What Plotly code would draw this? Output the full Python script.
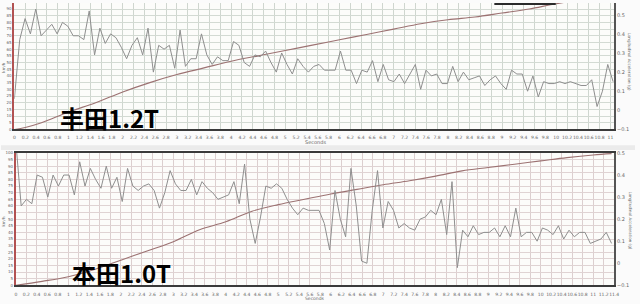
import numpy as np
import plotly.graph_objects as go

# ---------------- data ----------------
# Toyota 1.2T (top chart)
toyota_speed_t = [0, 0.2, 0.5, 1, 1.5, 2, 2.5, 3, 3.5, 4, 4.5, 5, 5.5, 6, 6.5, 7, 7.5, 8, 8.5, 9, 9.5, 10, 10.5, 11]
toyota_speed = [0, 1.5, 5, 13, 20, 28, 35, 41, 46, 51, 55, 59, 63, 67, 71, 75, 79, 82, 84, 87, 90, 94, 97, 100]
toyota_acc = [
    0.06, 0.37, 0.48, 0.40, 0.53, 0.39, 0.42, 0.45, 0.40, 0.46, 0.44, 0.39, 0.39, 0.37, 0.52, 0.29, 0.43, 0.35, 0.40,
    0.38, 0.33, 0.27, 0.34, 0.38, 0.29, 0.43, 0.20, 0.34, 0.32, 0.34, 0.22, 0.42, 0.23, 0.27, 0.27, 0.40, 0.29, 0.24,
    0.28, 0.26, 0.26, 0.36, 0.34, 0.25, 0.23, 0.29, 0.28, 0.31, 0.25, 0.20, 0.30, 0.24, 0.19, 0.27, 0.23, 0.20, 0.23,
    0.24, 0.21, 0.21, 0.21, 0.31, 0.21, 0.21, 0.14, 0.21, 0.20, 0.26, 0.15, 0.24, 0.16, 0.15, 0.19, 0.14, 0.19, 0.24, 0.11,
    0.21, 0.18, 0.19, 0.14, 0.14, 0.23, 0.15, 0.20, 0.16, 0.17, 0.18, 0.13, 0.16, 0.18, 0.14, 0.11, 0.21, 0.19,
    0.19, 0.10, 0.18, 0.07, 0.15, 0.14, 0.14, 0.15, 0.14, 0.15, 0.14, 0.13, 0.13, 0.16, 0.02, 0.10, 0.24, 0.15]
toyota_t_end = 11.05

# Honda 1.0T (bottom chart)
honda_speed_t = [0, 0.5, 1, 1.5, 2, 2.5, 3, 3.5, 4, 4.5, 5, 5.5, 6, 6.5, 7, 7.5, 8, 8.5, 9, 9.5, 10, 10.5, 11, 11.35]
honda_speed = [0, 3, 6.5, 12, 19, 26, 33, 42, 48, 56, 61, 65, 69, 72.5, 76, 79, 82.5, 86.5, 89, 91.5, 94, 96.5, 98.5, 99.5]
honda_acc = [
    0.55, 0.26, 0.29, 0.27, 0.40, 0.39, 0.30, 0.40, 0.35, 0.40, 0.40, 0.31, 0.46, 0.35, 0.43, 0.38, 0.34, 0.44, 0.34,
    0.39, 0.28, 0.43, 0.35, 0.33, 0.35, 0.36, 0.33, 0.25, 0.32, 0.42, 0.36, 0.33, 0.33, 0.38, 0.31, 0.37, 0.34, 0.32, 0.29,
    0.30, 0.31, 0.37, 0.27, 0.45, 0.20, 0.09, 0.21, 0.35, 0.34, 0.36, 0.34, 0.29, 0.25, 0.22, 0.25, 0.24, 0.24, 0.24,
    0.18, 0.06, 0.33, 0.20, 0.12, 0.43, 0.26, 0.01, 0.00, 0.24, 0.42, 0.16, 0.28, 0.24, 0.16, 0.18, 0.16, 0.15, 0.20, 0.21,
    0.24, 0.22, 0.29, 0.13, 0.37, -0.02, 0.15, 0.12, 0.17, 0.13, 0.14, 0.14, 0.16, 0.12, 0.17, 0.12, 0.25, 0.12,
    0.14, 0.14, 0.10, 0.16, 0.15, 0.13, 0.17, 0.11, 0.15, 0.12, 0.14, 0.14, 0.09, 0.10, 0.11, 0.14, 0.09]
honda_t_end = 11.35

labels = ["丰田1.2T", "本田1.0T"]
x_title = "Seconds"
left_title = "km/h"
right_title = "Longitudinal Acceleration (g)"

toyota_t = np.linspace(0, toyota_t_end, len(toyota_acc))
honda_t = np.linspace(0, honda_t_end, len(honda_acc))

# ---------------- figure ----------------
W, H = 640, 304
def px(x):
    return x / W
def py(y):
    return 1 - y / H

ACC = "#8e8e8e"
SPD = "#9c7272"
tickfont = dict(family="DejaVu Sans", size=5, color="#666")
xtickfont = dict(family="DejaVu Sans", size=4.5, color="#666")

fig = go.Figure()
fig.add_trace(go.Scatter(x=toyota_t, y=toyota_acc, xaxis="x", yaxis="y2", mode="lines",
                         line=dict(color=ACC, width=1), hoverinfo="skip"))
fig.add_trace(go.Scatter(x=toyota_speed_t, y=toyota_speed, xaxis="x", yaxis="y", mode="lines",
                         line=dict(color=SPD, width=1.1, shape="spline"), hoverinfo="skip"))
fig.add_trace(go.Scatter(x=honda_t, y=honda_acc, xaxis="x2", yaxis="y4", mode="lines",
                         line=dict(color=ACC, width=1), hoverinfo="skip"))
fig.add_trace(go.Scatter(x=honda_speed_t, y=honda_speed, xaxis="x2", yaxis="y3", mode="lines",
                         line=dict(color=SPD, width=1.1, shape="spline"), hoverinfo="skip"))

xcommon = dict(dtick=0.2, tick0=0, tickangle=0, tickfont=xtickfont, showline=True,
               linecolor="#3a3a3a", linewidth=2, ticks="", zeroline=False)
fig.update_layout(
    width=W, height=H, margin=dict(l=0, r=0, t=0, b=0),
    paper_bgcolor="#fbfbfb", plot_bgcolor="#fcfcfa", showlegend=False,
    xaxis=dict(domain=[px(13.5), px(619)], range=[0, 11.07], anchor="y", ticklabelstandoff=2,
               gridcolor="#cfd6cf", gridwidth=1, **xcommon),
    yaxis=dict(domain=[py(129), py(0)], range=[0, 94.5], dtick=5, tickfont=dict(tickfont, size=4),
               showline=True, linecolor="#b25252", linewidth=2, gridcolor="#d3dad3", zeroline=False,
               ticks="", anchor="x"),
    yaxis2=dict(range=[-0.1, 0.5615], dtick=0.1, overlaying="y", side="right", anchor="x",
                showgrid=False, zeroline=False, showline=True, linecolor="#555", linewidth=1.5,
                tickfont=tickfont, ticks=""),
    xaxis2=dict(domain=[px(15), px(619)], range=[0, 11.4], anchor="y3", mirror=True, ticklabelstandoff=3,
                gridcolor="#dccfcf", gridwidth=1, **xcommon),
    yaxis3=dict(domain=[py(288), py(153)], range=[0, 100], dtick=5, tickfont=dict(tickfont, size=4),
                showline=True, linecolor="#b25252", linewidth=2, gridcolor="#dfd3d3", zeroline=False,
                ticks="", anchor="x2"),
    yaxis4=dict(range=[-0.1, 0.5], dtick=0.1, overlaying="y3", side="right", anchor="x2",
                showgrid=False, zeroline=False, showline=True, linecolor="#555", linewidth=1.5,
                tickfont=tickfont, ticks=""),
)

# separator band between the two panels and a dark strip at the very top
fig.add_shape(type="rect", xref="paper", yref="paper", x0=0, x1=1, y0=py(150), y1=py(145),
              fillcolor="#ebebeb", line=dict(width=0), layer="below")
fig.add_shape(type="rect", xref="paper", yref="paper", x0=px(498), x1=px(560), y0=py(2), y1=py(0),
              fillcolor="#2a2a2a", line=dict(width=0))

def note(text, x, y, font, angle=0):
    fig.add_annotation(text=text, x=px(x), y=py(y), xref="paper", yref="paper", showarrow=False,
                       xanchor="center", yanchor="middle", font=font, textangle=angle, borderpad=0)

small = dict(family="DejaVu Sans", size=5, color="#666")
note(x_title, 317, 141.5, small)
note(x_title, 317, 301, dict(small, size=4.5))
note(left_title, 3, 65, dict(small, size=4), -90)
note(left_title, 3, 222, dict(small, size=4), -90)
note(right_title, 634, 60, dict(small, size=4), 90)
note(right_title, 635, 222, dict(small, size=4), 90)

big = dict(family="Noto Sans CJK SC", size=24, color="#000")
note("<b>" + labels[0] + "</b>", 110, 117, big)
note("<b>" + labels[1] + "</b>", 122, 275, big)

fig.write_html("out.html")
